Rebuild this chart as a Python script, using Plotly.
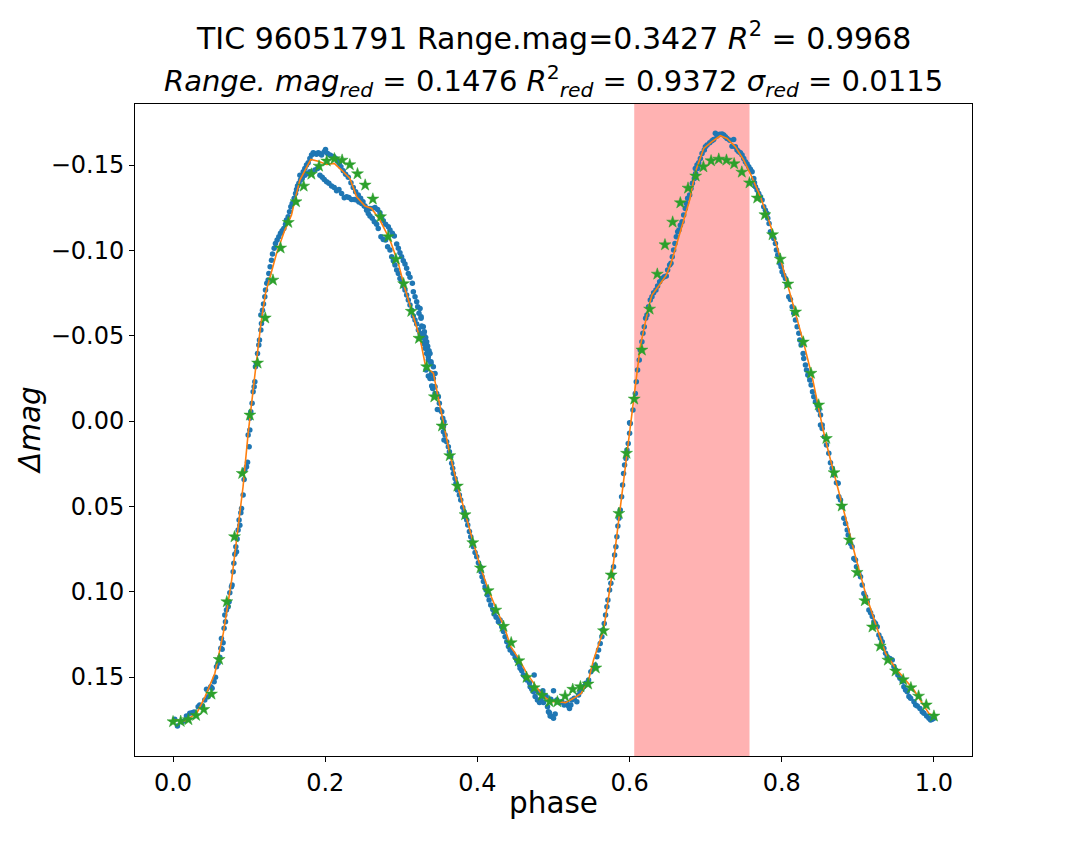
"""Phase-folded light curve of TIC 96051791 with binned means and the fitted curve."""

import plotly.graph_objects as go

TITLE_1 = "TIC 96051791 Range.mag=0.3427 <i>R</i><sup>2</sup> = 0.9968"
TITLE_2 = ("<i>Range.</i> <i>mag</i><sub><i>red</i></sub> = 0.1476 "
           "<i>R</i><sup>2</sup><sub><i>red</i></sub> = 0.9372 "
           "<i>σ</i><sub><i>red</i></sub> = 0.0115")

# highlighted phase window (red band)
band_start = 0.6061
band_end = 0.7576

blue_rise_1 = [
    (.0022, .1748), (.0058, .1787), (.011, .1762), (.0145, .1758), (.0176, .1729), (.022, .1713),
    (.025, .1709), (.0276, .1705), (.033, .1674), (.0351, .1664), (.0387, .167), (.0417, .1635),
    (.044, .1572), (.0461, .1616), (.0496, .1557), (.0513, .1566), (.054, .1528), (.0558, .1502),
    (.0571, .144), (.0592, .142), (.0614, .1385), (.0628, .1332), (.0645, .1338), (.0658, .1299),
    (.0636, .1274), (.0671, .1215), (.0689, .1176), (.068, .1137), (.0702, .1108), (.0724, .1088),
    (.0737, .1059), (.0746, .1006), (.0768, .0971), (.0776, .0961), (.079, .0883), (.0799, .0834),
    (.0812, .0781), (.0834, .0766), (.0825, .0737), (.0842, .0691), (.0855, .0639), (.0878, .0611),
    (.0868, .058), (.0891, .0537), (.09, .0512), (.0921, .0434), (.0934, .0342), (.0943, .0287),
    (.0966, .0268), (.0979, .0242), (.1, .0151), (.1009, .0053), (.0987, .0082),
]
blue_peak_1_upper = [
    (.1009, -.0016), (.1022, -.0055), (.1039, -.0104), (.1053, -.0172), (.1066, -.0201),
    (.1075, -.023), (.1083, -.0318), (.1096, -.0338), (.111, -.0396), (.1127, -.0445),
    (.1136, -.0475), (.1154, -.0533), (.1162, -.0572), (.1154, -.0621), (.1175, -.065),
    (.1189, -.0686), (.1206, -.0729), (.1215, -.0768), (.1232, -.0807), (.125, -.0826),
    (.1259, -.0865), (.1276, -.0904), (.1294, -.0943), (.1307, -.0979), (.1329, -.1012),
    (.1346, -.1041), (.1368, -.1061), (.139, -.108), (.1412, -.11), (.1434, -.1115),
    (.1456, -.1129), (.1478, -.1154), (.1491, -.1178), (.1513, -.1197), (.1531, -.1227),
    (.1548, -.1256), (.1566, -.1275), (.1592, -.1305), (.161, -.1334), (.1623, -.1357),
    (.1636, -.1377), (.1654, -.1393), (.1675, -.1412), (.1697, -.1436), (.1711, -.1461),
    (.1732, -.148), (.1754, -.15), (.1776, -.1514), (.1798, -.1539), (.182, -.1559),
    (.1842, -.1572), (.1864, -.1568), (.1886, -.1563), (.1908, -.1572), (.193, -.1568),
    (.1952, -.1559), (.1987, -.1578), (.2004, -.1592), (.2031, -.1568), (.2061, -.1559),
    (.2083, -.1553), (.2114, -.1549), (.214, -.1537), (.2162, -.1523), (.2184, -.151),
    (.2206, -.149), (.2237, -.1467), (.2268, -.1447), (.2303, -.1428), (.2338, -.1396),
    (.2368, -.1369), (.2399, -.1344), (.2434, -.1324), (.2465, -.1305), (.2496, -.1285),
    (.2522, -.126), (.2553, -.1246), (.2588, -.1246), (.2618, -.1246), (.2654, -.1252),
    (.2689, -.124), (.2719, -.1221), (.2741, -.1197), (.2763, -.1174), (.2794, -.1154),
    (.2829, -.1139), (.2851, -.1119), (.2882, -.11), (.2908, -.1084), (.2939, -.1037),
    (.2961, -.1012), (.2982, -.0986), (.3004, -.0963), (.3026, -.0939), (.3048, -.092),
    (.307, -.0895), (.3092, -.0865), (.3114, -.0842), (.3145, -.0807), (.3158, -.0758),
    (.318, -.0729), (.3202, -.0699), (.3215, -.067), (.3232, -.0631), (.3259, -.0602),
    (.3276, -.0553), (.3303, -.0523), (.332, -.049), (.3333, -.0465), (.3346, -.0439),
    (.3364, -.0412), (.3377, -.0396), (.339, -.0348), (.3421, -.0318), (.3443, -.0279),
]
blue_peak_1_lower = [
    (.1667, -.1441), (.1697, -.1422), (.1732, -.1441), (.1768, -.1451), (.1798, -.1461),
    (.1829, -.1455), (.1864, -.1471), (.1899, -.148), (.193, -.1441), (.1961, -.1428),
    (.1987, -.1416), (.2018, -.1402), (.2048, -.1393), (.2083, -.1377), (.2118, -.1369),
    (.2149, -.135), (.218, -.1357), (.2215, -.1334), (.225, -.1309), (.2281, -.1314),
    (.2311, -.131), (.2346, -.1299), (.2382, -.1299), (.2412, -.1295), (.2443, -.1283),
    (.2478, -.1275), (.2513, -.126), (.2544, -.1236), (.2566, -.1217), (.2588, -.1201),
    (.2618, -.1188), (.2645, -.1168), (.2675, -.1154), (.2697, -.1129), (.2732, -.108),
    (.2763, -.1064), (.2794, -.1061), (.282, -.1021), (.2851, -.1002), (.2873, -.0963),
    (.2895, -.0939), (.2917, -.0914), (.2939, -.0885), (.2961, -.0865), (.2982, -.0836),
    (.3004, -.0816), (.3026, -.0791), (.3048, -.0768), (.307, -.0738), (.3092, -.0709),
    (.3114, -.068), (.3136, -.065), (.3158, -.0615), (.318, -.0592), (.3202, -.0568),
    (.3224, -.0533), (.3246, -.0514), (.3268, -.049), (.3289, -.0455), (.3311, -.0426),
    (.3333, -.0396), (.3355, -.0357), (.339, -.0338), (.3399, -.0279), (.3421, -.025),
    (.3434, -.0201), (.3443, -.0162),
]
blue_fall_1 = [
    (.3246, -.066), (.326, -.0611), (.3268, -.0557), (.3289, -.0553), (.3298, -.0504),
    (.3311, -.0475), (.3333, -.0445), (.3342, -.0416), (.3355, -.0377), (.3325, -.0299),
    (.3355, -.0264), (.3377, -.025), (.3399, -.0205), (.3412, -.0191), (.3443, -.0201),
    (.3465, -.0162), (.3487, -.0143), (.35, -.0104), (.3474, -.0068), (.3509, -.0064),
    (.3531, -.0055), (.3544, -.0016), (.3561, .0004), (.3553, .0033), (.3553, .0063),
    (.3575, .0082), (.3561, .0111), (.3596, .0121), (.3618, .015), (.3632, .018),
    (.3649, .0209), (.3662, .0248), (.3675, .0277), (.3684, .0307), (.3706, .0336),
    (.3719, .0365), (.3737, .0404), (.3763, .0434), (.3781, .0463), (.3807, .0506),
    (.3825, .0531), (.3838, .0561), (.386, .058), (.3873, .0609), (.3895, .0648),
    (.3912, .0678), (.3925, .0707), (.3947, .0736), (.3969, .0771), (.3991, .0795),
    (.4013, .083), (.4035, .0854), (.4048, .0883), (.4061, .0912), (.4079, .0941),
    (.4101, .0971), (.4114, .099), (.4132, .102), (.4154, .1049), (.4175, .1078),
    (.4202, .1104), (.4219, .1131), (.4246, .115), (.4276, .1176), (.4298, .1166),
    (.432, .1205), (.4342, .1234), (.4364, .1264), (.4386, .1293), (.4408, .1322),
    (.443, .1342), (.4465, .1361), (.4496, .1385), (.4518, .1404), (.4553, .143),
    (.4561, .1449), (.4583, .1463), (.4605, .1488), (.4627, .1498), (.4649, .1518),
]
blue_minimum = [
    (.4684, .1533), (.4693, .1557), (.4715, .1572), (.4737, .1586), (.4759, .1615),
    (.4789, .1635), (.4816, .165), (.4833, .1631), (.486, .158), (.4877, .1605),
    (.4904, .1615), (.4921, .1674), (.4934, .1703), (.4956, .1729), (.4978, .1732),
    (.5, .1742), (.5022, .1717), (.5, .158), (.4965, .1631), (.5044, .1635),
    (.5079, .165), (.511, .1645), (.514, .1664), (.5175, .1654), (.5197, .167),
    (.5228, .1664), (.5241, .1635), (.5272, .1625), (.5307, .1645), (.5329, .1605),
    (.5351, .1586), (.5373, .1572), (.5395, .1557), (.5425, .1537), (.5461, .1518),
    (.4746, .1488), (.4803, .1586), (.4868, .165), (.4947, .1709), (.521, .1684),
]
blue_rise_2 = [
    (.5491, .1469), (.5526, .1449), (.5548, .143), (.557, .1381), (.5592, .1342),
    (.5614, .1303), (.5636, .1264), (.5649, .1225), (.5667, .1186), (.5684, .1137),
    (.5702, .1088), (.5715, .1049), (.5737, .099), (.5754, .0951), (.5768, .0902),
    (.5789, .0854), (.5803, .0785), (.582, .0736), (.5833, .0678), (.5846, .0615),
    (.586, .057), (.5877, .0521), (.5895, .0443), (.5908, .0375), (.5921, .0307),
    (.5934, .0258), (.5952, .0219), (.5965, .017), (.5982, .0131), (.6, .0072),
    (.6009, .0014), (.6, .001), (.6044, -.0064), (.6075, -.0162), (.6088, -.023),
    (.6105, -.0299), (.6127, -.0357), (.614, -.0416), (.6162, -.0465), (.6175, -.0514),
    (.6193, -.0553), (.6211, -.0602), (.6228, -.0621), (.625, -.067), (.6272, -.0709),
    (.6294, -.0729), (.6316, -.0752), (.6346, -.0768), (.6368, -.0791), (.6395, -.0816),
    (.6425, -.0836), (.6456, -.0846), (.6482, -.085), (.65, -.0885), (.6526, -.0914),
    (.6544, -.0924), (.6561, -.0963), (.6579, -.1002), (.6596, -.1041), (.6614, -.108),
    (.6632, -.1109), (.6649, -.1119), (.6667, -.1148), (.6689, -.1168), (.6711, -.1207),
    (.6732, -.1246), (.6746, -.1275), (.6763, -.1305), (.6789, -.1324), (.6807, -.1363),
    (.6825, -.1393), (.6851, -.1422), (.6868, -.1451), (.6895, -.148),
]
blue_peak_2 = [
    (.6864, -.148), (.6886, -.15), (.6908, -.1514), (.693, -.1539), (.6952, -.1568),
    (.6982, -.1588), (.6996, -.1607), (.7018, -.1617), (.7053, -.1631), (.7083, -.1643),
    (.7105, -.165), (.7127, -.1686), (.7149, -.167), (.7184, -.168), (.7215, -.1682),
    (.7237, -.1676), (.7259, -.1666), (.7281, -.1656), (.7316, -.1646), (.7346, -.1611),
    (.7368, -.165), (.739, -.1607), (.7412, -.1588), (.7434, -.1578), (.7456, -.1572),
    (.7478, -.1559), (.75, -.1539), (.7522, -.152), (.7544, -.1506), (.7566, -.149),
    (.7588, -.1475), (.761, -.1461), (.7632, -.1422), (.7641, -.1396), (.7654, -.1373),
    (.7675, -.1354), (.7697, -.1334), (.7719, -.1314), (.7741, -.1295), (.7763, -.1256),
    (.7785, -.1236), (.7807, -.1217), (.7816, -.1188), (.7833, -.1158), (.7851, -.1109),
    (.7873, -.109), (.7895, -.107), (.7917, -.1041), (.793, -.1002), (.7947, -.0973),
    (.7974, -.0924), (.7991, -.0904), (.8004, -.0875), (.8026, -.0855), (.8048, -.0836),
    (.807, -.0797), (.8092, -.0729), (.8114, -.0713), (.8136, -.067), (.8158, -.0631),
    (.818, -.0592), (.8202, -.0553), (.8224, -.0514), (.8237, -.0475), (.8254, -.0445),
    (.8281, -.0396), (.8289, -.0367), (.8311, -.0328), (.8325, -.0299), (.8342, -.027),
    (.8368, -.024), (.8386, -.0211), (.8404, -.0172), (.8421, -.0143), (.8443, -.0113),
    (.8465, -.0094), (.8487, -.0064), (.8509, -.0035), (.8531, .0023),
]
blue_fall_2 = [
    (.8509, .0023), (.8531, .0043), (.8561, .0092), (.8588, .0141), (.8618, .0189),
    (.864, .0244), (.8662, .0277), (.8684, .0316), (.8719, .0361), (.8741, .0365),
    (.875, .0443), (.8772, .0463), (.8794, .0502), (.8816, .057), (.8838, .06),
    (.886, .0639), (.8873, .0668), (.8904, .0717), (.8925, .0736), (.8947, .0805),
    (.8969, .0814), (.8982, .0854), (.9013, .0893), (.9035, .0912), (.9057, .0961),
    (.9079, .101), (.9101, .1029), (.9123, .1059), (.9145, .1107), (.9167, .1123),
    (.9189, .1146), (.9211, .1176), (.9232, .1186), (.9254, .1205), (.9276, .1254),
    (.9298, .1273), (.932, .1293), (.9342, .1332), (.9364, .1361), (.9386, .1381),
    (.9421, .1391), (.9452, .14), (.9474, .1439), (.9496, .1459), (.9526, .1488),
    (.9553, .1508), (.9583, .1527), (.9605, .1557), (.9627, .1576), (.9649, .1586),
    (.9671, .1615), (.9693, .1625), (.9737, .1645), (.9759, .1664), (.9781, .167),
    (.9816, .1684), (.9846, .1703), (.9868, .1713), (.9904, .1729), (.9934, .1742),
    (.9956, .1752), (.9978, .1748), (1.0, .1742),
]

# binned means (green stars)
bin_phase = [
    0.0, .0101, .0202, .0303, .0404, .0505, .0606, .0707, .0808, .0909,
    .1010, .1111, .1212, .1313, .1414, .1515, .1616, .1717, .1818, .1919,
    .2020, .2121, .2222, .2323, .2424, .2525, .2626, .2727, .2828, .2929,
    .3030, .3131, .3232, .3333, .3434, .3535, .3636, .3737, .3838, .3939,
    .4040, .4141, .4242, .4343, .4444, .4545, .4646, .4747, .4848, .4949,
    .5051, .5152, .5253, .5354, .5455, .5556, .5657, .5758, .5859, .5960,
    .6061, .6162, .6263, .6364, .6465, .6566, .6667, .6768, .6869, .6970,
    .7071, .7172, .7273, .7374, .7475, .7576, .7677, .7778, .7879, .7980,
    .8081, .8182, .8283, .8384, .8485, .8586, .8687, .8788, .8889, .8990,
    .9091, .9192, .9293, .9394, .9495, .9596, .9697, .9798, .9899, 1.0,
]
bin_dmag = [
    .1762, .176, .175, .1725, .169, .160, .1397, .1059, .0678, .0307,
    -.0035, -.034, -.0604, -.0826, -.1014, -.1164, -.1285, -.1377, -.1447, -.1494,
    -.1524, -.1537, -.1529, -.1502, -.1449, -.1383, -.1301, -.1197, -.108, -.0949,
    -.0805, -.0643, -.0485, -.0318, -.0142, .0029, .0203, .0381, .0549, .0713,
    .0861, .0994, .1108, .1203, .1299, .1405, .1502, .1563, .1607, .1645,
    .1645, .1612, .1572, .1557, .1541, .1447, .1229, .0902, .0541, .0189,
    -.0129, -.0416, -.0656, -.0861, -.1033, -.1166, -.1279, -.1365, -.1436, -.149,
    -.1525, -.1535, -.1529, -.1508, -.1459, -.1396, -.1307, -.1209, -.1092, -.0949,
    -.0803, -.0639, -.0463, -.028, -.0094, .0102, .0303, .0498, .0697, .0887,
    .1053, .1207, .1319, .1401, .1465, .1516, .1563, .1612, .1664, .1729,
]

# fitted curve (orange)
fit_phase = [
    0.0, .0154, .031, .042, .055, .066, .077, .0855, .092, .0987,
    .1039, .1083, .1154, .1215, .1294, .136, .1469, .1557, .1601, .1667,
    .1811, .1908, .2018, .2118, .2215, .2325, .2412, .2522, .261, .2719,
    .2851, .2961, .304, .3136, .3246, .332, .3421, .3474, .3575, .364,
    .3737, .3838, .3947, .4044, .4145, .4254, .4351, .4439, .4553, .4649,
    .4759, .486, .4965, .5057, .5158, .5263, .5364, .5461, .5526, .5658,
    .5768, .5868, .5965, .6009, .6075, .614, .625, .6294, .6382, .6482,
    .6544, .6623, .6711, .6789, .6864, .6974, .7083, .7193, .7281, .739,
    .75, .7596, .7719, .7829, .7939, .8061, .818, .8289, .8399, .8544,
    .8618, .8728, .8846, .8969, .9101, .9232, .9364, .9496, .9627, .9737,
    .9846, .9934, 1.0,
]
fit_dmag = [
    .175, .1758, .1713, .1616, .1478, .1244, .0932, .0639, .0385, .0072,
    -.0113, -.0299, -.0568, -.0748, -.0875, -.0982, -.1119, -.1207, -.1295, -.1412,
    -.1533, -.1523, -.1504, -.151, -.1471, -.1422, -.1314, -.126, -.1246, -.1178,
    -.1061, -.0924, -.0787, -.0641, -.0484, -.0318, -.0281, -.0162, .0053, .0199,
    .0375, .0541, .0713, .0861, .099, .1107, .1205, .1322, .14, .1479,
    .1547, .1611, .1645, .1645, .165, .1625, .1596, .1518, .14, .1225,
    .0902, .0541, .0189, .0053, -.0201, -.0436, -.067, -.0738, -.0791, -.0855,
    -.0924, -.1041, -.1178, -.1295, -.146, -.1598, -.1637, -.1672, -.1656, -.1607,
    -.1529, -.1441, -.1314, -.1178, -.1021, -.0826, -.0631, -.0455, -.026, .0053,
    .0189, .0385, .058, .0795, .101, .1186, .1361, .1449, .1518, .1576,
    .1654, .1713, .1729,
]

FONT = "DejaVu Sans"


def main() -> None:
    segments = [blue_rise_1, blue_peak_1_upper, blue_peak_1_lower, blue_fall_1,
                blue_minimum, blue_rise_2, blue_peak_2, blue_fall_2]
    obs = [p for seg in segments for p in seg]
    obs_phase = [p[0] for p in obs]
    obs_dmag = [p[1] for p in obs]

    fig = go.Figure()
    fig.add_vrect(x0=band_start, x1=band_end, fillcolor="rgba(255,0,0,0.3)",
                  line_width=0, layer="below")
    fig.add_trace(go.Scatter(x=obs_phase, y=obs_dmag, mode="markers",
                             marker=dict(size=5.5, color="#1f77b4", line_width=0),
                             showlegend=False))
    fig.add_trace(go.Scatter(x=fit_phase, y=fit_dmag, mode="lines",
                             line=dict(color="#ff7f0e", width=1.6), showlegend=False))
    fig.add_trace(go.Scatter(x=bin_phase, y=bin_dmag, mode="markers",
                             marker=dict(symbol="star", size=9, color="#2ca02c",
                                         line=dict(width=0.5, color="#2ca02c")),
                             showlegend=False))

    axis_common = dict(showline=True, linecolor="black", linewidth=1, mirror=True,
                       ticks="outside", ticklen=5, tickcolor="black", showgrid=False,
                       zeroline=False, tickfont=dict(size=24, color="black"))
    fig.update_xaxes(range=[-0.05, 1.05], tickvals=[0, 0.2, 0.4, 0.6, 0.8, 1.0],
                     tickformat=".1f", **axis_common)
    fig.update_yaxes(range=[0.1963, -0.1858],
                     tickvals=[-0.15, -0.10, -0.05, 0.0, 0.05, 0.10, 0.15],
                     tickformat=".2f", **axis_common)

    # the page body adds an 8 px margin, so the figure is 8 px smaller each way
    text_font = dict(size=30, color="black")
    fig.update_layout(
        width=1072, height=856,
        font=dict(family=FONT, color="black"),
        plot_bgcolor="white", paper_bgcolor="white",
        margin=dict(l=127, r=108, t=96, b=108),
        annotations=[
            dict(text=TITLE_1, x=0.5, y=1.1028, xref="paper", yref="paper",
                 xanchor="center", yanchor="middle", showarrow=False, font=text_font),
            dict(text=TITLE_2, x=0.5, y=1.0353, xref="paper", yref="paper",
                 xanchor="center", yanchor="middle", showarrow=False,
                 font=dict(size=29, color="black")),
            dict(text="phase", x=0.5, y=-0.0721, xref="paper", yref="paper",
                 xanchor="center", yanchor="middle", showarrow=False,
                 font=dict(size=29.5, color="black")),
            dict(text="<i>Δmag</i>", x=-0.1254, y=0.5, xref="paper", yref="paper",
                 xanchor="center", yanchor="middle", textangle=-90, showarrow=False,
                 font=dict(size=29.5, color="black")),
        ],
    )
    fig.write_html("out.html")


if __name__ == "__main__":
    main()
